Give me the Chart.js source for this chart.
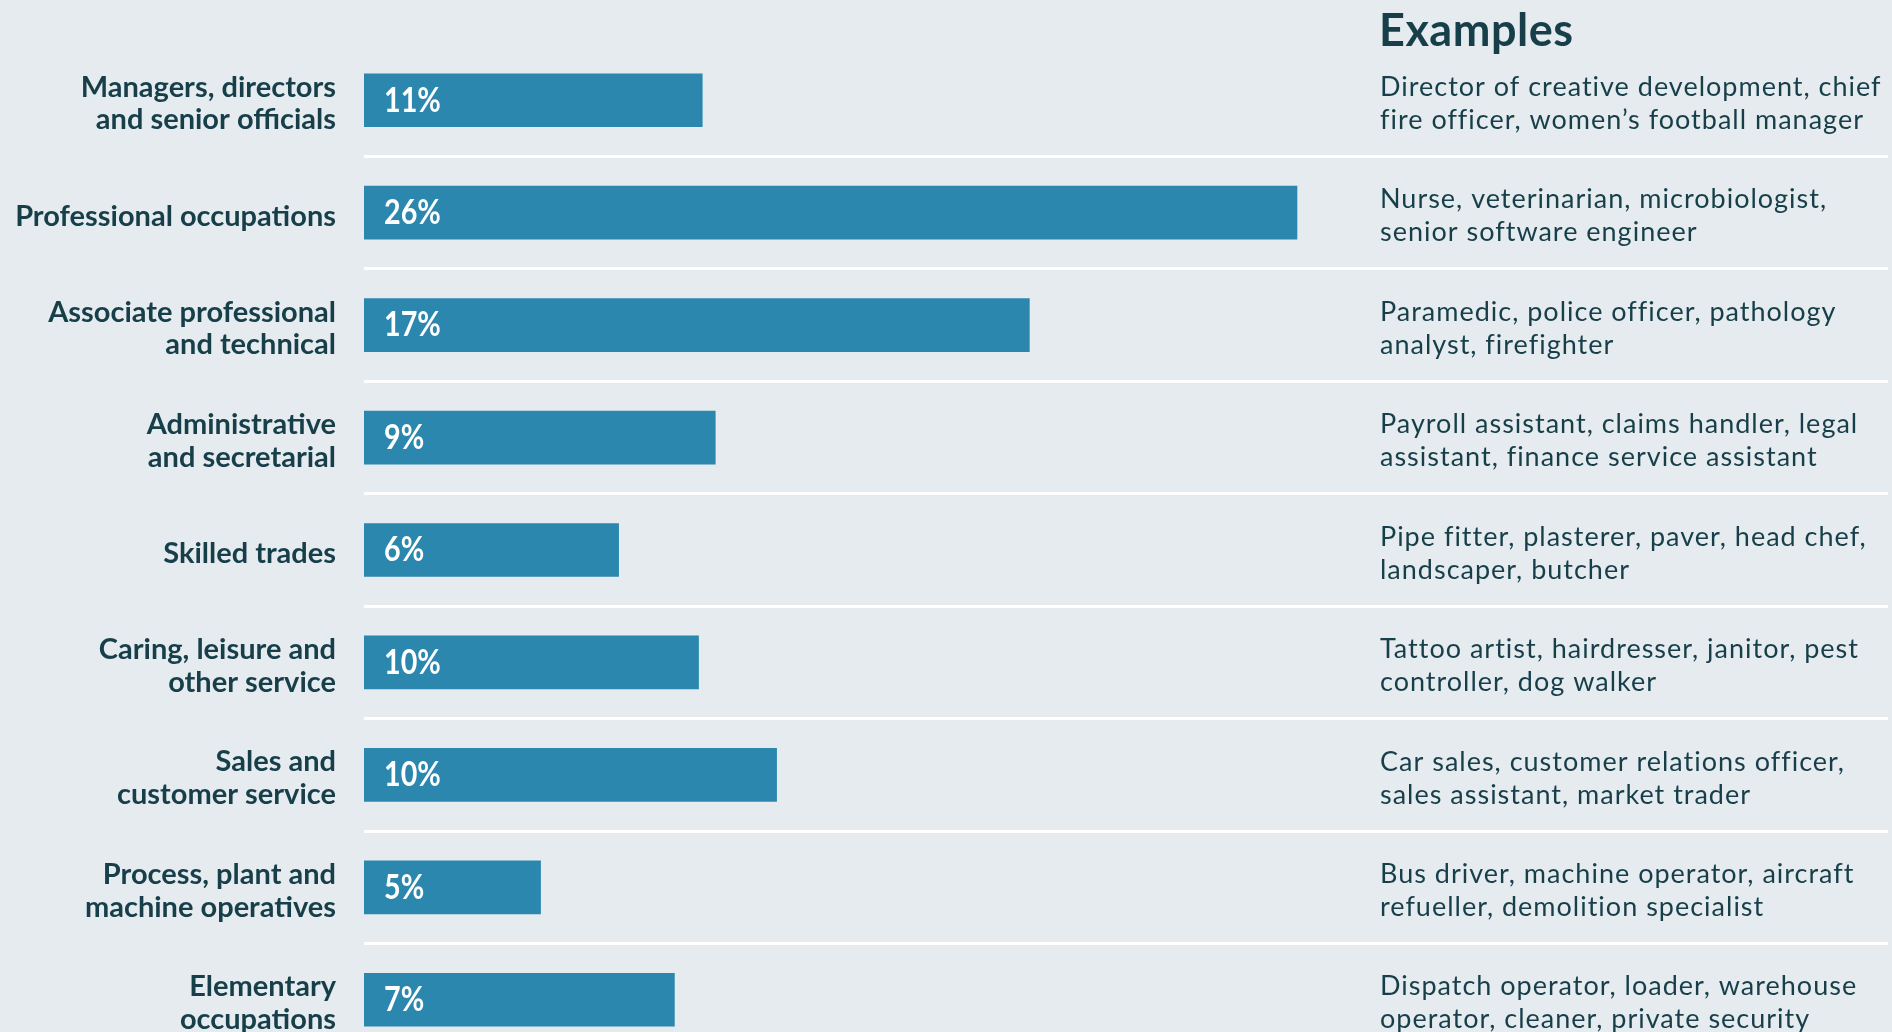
<!DOCTYPE html>
<html>
<head>
<meta charset="utf-8">
<script src="https://cdn.jsdelivr.net/npm/chart.js@4"></script>
<style>
  html, body { margin: 0; padding: 0; background: #e5ebee; overflow: hidden; }
  canvas { display: block; }
</style>
</head>
<body>
<canvas id="occChart" width="1892" height="1060"></canvas>
<script>
// Occupation groups (left labels)
const categories = [
    ['Managers, directors', 'and senior officials'],
    'Professional occupations',
    ['Associate professional', 'and technical'],
    ['Administrative', 'and secretarial'],
    'Skilled trades',
    ['Caring, leisure and', 'other service'],
    ['Sales and', 'customer service'],
    ['Process, plant and', 'machine operatives'],
    ['Elementary', 'occupations']
];

// Bar lengths (they don't track the printed labels exactly)
const barValues = [9.1, 25.1, 17.9, 9.45, 6.85, 9.0, 11.1, 4.75, 8.35];

// Percent text printed inside each bar
const pctLabels = ['11%', '26%', '17%', '9%', '6%', '10%', '10%', '5%', '7%'];

// Right hand column
const examplesTitle = 'Examples';
const examples = [
    ['Director of creative development, chief', 'fire officer, women\u2019s football manager'],
    ['Nurse, veterinarian, microbiologist,', 'senior software engineer'],
    ['Paramedic, police officer, pathology', 'analyst, firefighter'],
    ['Payroll assistant, claims handler, legal', 'assistant, finance service assistant'],
    ['Pipe fitter, plasterer, paver, head chef,', 'landscaper, butcher'],
    ['Tattoo artist, hairdresser, janitor, pest', 'controller, dog walker'],
    ['Car sales, customer relations officer,', 'sales assistant, market trader'],
    ['Bus driver, machine operator, aircraft', 'refueller, demolition specialist'],
    ['Dispatch operator, loader, warehouse', 'operator, cleaner, private security']
];

const xMax = 41;

const darkText = '#173f4a';
const barColor = '#2b87ad';

// draws the % labels, the examples column and its heading
const textPlugin = {
    id: 'textPlugin',
    afterDatasetsDraw(chart) {
        const ctx = chart.ctx;
        const bars = chart.getDatasetMeta(0).data;
        ctx.save();
        ctx.textAlign = 'left';
        ctx.textBaseline = 'middle';

        // percentages inside the bars, squeezed a bit to look condensed
        ctx.fillStyle = '#ffffff';
        ctx.font = 'bold 35px Lato, sans-serif';
        bars.forEach((bar, i) => {
            ctx.save();
            ctx.translate(bar.base + 20, bar.y);
            ctx.scale(0.82, 1);
            ctx.fillText(pctLabels[i], 0, 0);
            ctx.restore();
        });

        // examples text
        const textX = 1380;
        ctx.fillStyle = darkText;
        ctx.font = '27px Lato, sans-serif';
        ctx.letterSpacing = '1px';
        bars.forEach((bar, i) => {
            const lines = examples[i];
            ctx.fillText(lines[0], textX, bar.y - 13);
            ctx.fillText(lines[1], textX, bar.y + 20);
        });

        ctx.letterSpacing = '0.5px';
        ctx.font = 'bold 45px Lato, sans-serif';
        ctx.fillText(examplesTitle, textX - 1, 31);
        ctx.restore();
    }
};

const ctx = document.getElementById('occChart').getContext('2d');
const chart = new Chart(ctx, {
    type: 'bar',
    data: {
        labels: categories,
        datasets: [{
            data: barValues,
            backgroundColor: barColor,
            borderWidth: 0,
            barThickness: 53
        }]
    },
    options: {
        indexAxis: 'y',
        responsive: false,
        animation: false,
        devicePixelRatio: 1,
        layout: {
            padding: { top: 44, right: 4, bottom: 4, left: 0 }
        },
        plugins: {
            legend: { display: false },
            tooltip: { enabled: false }
        },
        scales: {
            x: {
                display: false,
                min: 0,
                max: xMax
            },
            y: {
                offset: true,
                border: { display: false },
                grid: {
                    offset: true,
                    drawTicks: false,
                    lineWidth: 3,
                    // hide the top and bottom edges, keep the separators
                    color: c => (c.index === undefined || c.index === 0) ? 'rgba(0,0,0,0)' : '#ffffff'
                },
                ticks: {
                    padding: 28,
                    labelOffset: 3.5,
                    color: darkText,
                    font: { family: 'Lato, sans-serif', size: 29, weight: 'bold', lineHeight: 1.13 }
                },
                afterFit(scale) {
                    scale.width = 364;
                    scale.paddingTop = 0;
                    scale.paddingBottom = 0;
                }
            }
        }
    },
    plugins: [textPlugin]
});
</script>
</body>
</html>
